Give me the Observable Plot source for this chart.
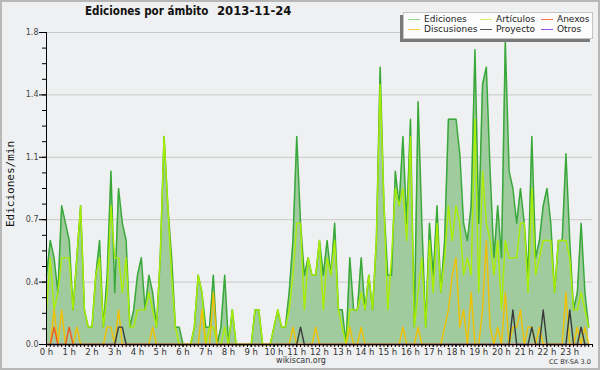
<!DOCTYPE html>
<html>
<head>
<meta charset="utf-8">
<script src="https://cdn.jsdelivr.net/npm/d3@7"></script>
<script src="https://cdn.jsdelivr.net/npm/@observablehq/plot@0.6"></script>
<style>
  body { margin: 0; background: #eff0f1; }
  #wrap { position: relative; width: 600px; height: 370px; background: #eff0f1; overflow: hidden; font-family: "DejaVu Sans", sans-serif; }
  #chart { position: absolute; left: 0; top: 0; }
  #frame { position: absolute; left: 0; top: 0; width: 600px; height: 370px; box-sizing: border-box; border: 2px solid #b8b8b8; pointer-events: none; }
  .title { position: absolute; top: 4px; font-weight: bold; font-size: 12px; color: #111; white-space: nowrap; transform-origin: 0 50%; }
  #ylabel { position: absolute; left: 10px; top: 184px; transform: translate(-50%, -50%) rotate(-90deg); font-family: "DejaVu Sans Mono", monospace; font-size: 11px; color: #111; white-space: nowrap; }
  #legend { position: absolute; left: 403px; top: 12px; width: 190px; height: 27px; box-sizing: border-box; background: #fcfcfc; border: 1px solid #c4c4c4; box-shadow: -3px 3px 0 #7a7a7a; }
  .item { position: absolute; font-size: 9px; color: #222; white-space: nowrap; line-height: 10px; }
  .sw { position: absolute; width: 12px; height: 1px; }
  #site { position: absolute; left: 301px; top: 356px; transform: translateX(-50%); font-size: 8px; color: #333; }
  #lic { position: absolute; left: 549px; top: 358px; font-size: 6.5px; color: #333; white-space: nowrap; }
</style>
</head>
<body>
<div id="wrap">
  <div id="chart"></div>
  <div class="title" id="t1"></div>
  <div class="title" id="t2"></div>
  <div id="ylabel"></div>
  <div id="legend"></div>
  <div id="site"></div>
  <div id="lic"></div>
  <div id="frame"></div>
</div>
<script>
// ---- Data: edits per minute, one value every 10 minutes (144 per day) ----
const ediciones = [
  0.4,0.6,0.5,0.3,0.8,0.7,0.6,0.2,0.5,0.8,
  0.2,0.1,0.1,0.4,0.6,0.1,0.4,1.0,0.3,0.9,
  0.7,0.6,0.1,0.2,0.4,0.5,0.2,0.4,0.3,0.1,
  0.5,1.2,0.8,0.5,0.1,0.1,0,0,0,0.1,
  0.4,0.3,0.1,0.1,0.4,0,0.1,0.4,0,0.2,
  0,0,0,0,0,0.2,0.2,0,0,0,
  0.1,0.2,0.1,0.1,0.3,0.6,1.2,0.7,0.4,0.5,
  0.4,0.4,0.6,0.4,0.6,0.4,0.7,0.2,0.2,0,
  0.5,0.2,0.2,0.5,0.2,0.4,0.2,0.6,1.6,0.8,
  0.4,0.4,1.0,0.8,1.2,0.7,1.3,0.1,1.4,0.7,
  0.1,0.7,0.4,0.8,0.3,0.6,1.3,1.3,1.3,1.1,
  0.7,0.6,0.8,1.7,0.7,1.5,1.6,1.0,0.5,0.8,
  0.5,1.75,1.0,0.9,0.7,0.9,0.7,0.4,1.2,0.5,
  0.6,0.8,0.9,0.7,0.3,0.6,0.6,1.1,0.6,0.2,
  0.3,0.7,0.3,0.1
];
const articulos = [
  0.2,0.5,0.2,0.3,0.5,0.5,0.5,0.2,0.5,0.8,
  0.2,0.1,0.1,0.4,0.5,0.1,0.3,0.8,0.5,0.5,
  0.3,0.5,0.1,0.1,0.2,0.2,0.2,0.3,0.2,0.1,
  0.5,1.2,0.8,0.4,0.1,0,0,0,0,0.1,
  0.4,0.3,0,0.1,0.1,0,0,0.1,0,0.2,
  0,0,0,0,0,0.2,0.2,0,0,0,
  0.1,0.2,0.1,0.1,0.2,0.4,0.7,0.7,0.2,0.5,
  0.4,0.4,0.6,0.2,0.5,0.4,0.6,0.2,0.1,0,
  0.2,0.2,0.2,0.3,0.2,0.4,0.2,0.6,1.5,0.8,
  0.2,0.5,0.9,0.8,0.9,0.6,1.2,0.1,0.3,0.5,
  0.1,0.6,0.3,0.7,0.3,0.5,0.8,0.6,0.8,0.7,
  0.4,0.5,0.4,1.3,0.3,1.0,0.7,0.6,0.4,0.6,
  0.2,0.6,0.5,0.5,0.5,0.7,0.7,0.3,0.9,0.4,
  0.5,0.6,0.6,0.6,0.3,0.6,0.6,0.6,0.5,0.2,
  0.2,0.3,0.2,0.1
];
const discusiones = [
  0,0,0.2,0,0.2,0,0,0,0.1,0,
  0,0,0,0,0,0,0.1,0.1,0,0.2,
  0,0,0,0,0,0,0,0,0.1,0,
  0,0,0,0,0,0,0,0,0,0,
  0,0.2,0,0,0.3,0,0,0,0,0,
  0,0,0,0,0,0,0,0,0,0,
  0,0,0,0,0,0.1,0,0,0,0,
  0,0.1,0,0,0,0,0,0,0,0,
  0.1,0,0,0.1,0,0,0,0,0,0,
  0,0,0,0,0.1,0,0,0,0.1,0,
  0,0,0,0,0,0.1,0.2,0.4,0.5,0.1,
  0.2,0,0.3,0,0,0.2,0.6,0.1,0,0.1,
  0,0.3,0,0.1,0.1,0.2,0,0.1,0.1,0,
  0.1,0,0,0,0,0,0,0.3,0,0,
  0.1,0,0.1,0
];
const anexos = [
  0,0,0.1,0,0,0,0.1,0,0,0,
  0,0,0,0,0,0,0,0,0,0,
  0,0,0,0,0,0,0,0,0,0,
  0,0,0,0,0,0,0,0,0,0,
  0,0,0,0,0,0,0,0,0,0,
  0,0,0,0,0,0,0,0,0,0,
  0,0,0,0,0,0,0,0,0,0,
  0,0,0,0,0,0,0,0,0,0,
  0,0,0,0,0,0,0,0,0,0,
  0,0,0,0,0,0,0,0,0,0,
  0,0,0,0,0,0,0,0,0,0,
  0,0,0,0,0,0,0,0,0,0,
  0,0,0,0,0,0,0,0,0,0,
  0,0,0,0,0,0,0,0,0,0,
  0,0,0,0
];
const proyecto = [
  0,0,0,0,0,0,0,0,0,0,
  0,0,0,0,0,0,0,0,0,0.1,
  0.1,0,0,0,0,0,0,0,0,0,
  0,0,0,0,0,0,0,0,0,0,
  0,0,0,0,0,0,0,0,0,0,
  0,0,0,0,0,0,0,0,0,0,
  0,0,0,0,0,0,0,0.1,0,0,
  0,0,0,0,0,0,0,0,0,0,
  0,0,0,0,0,0,0,0,0,0,
  0,0,0,0,0,0,0,0,0,0,
  0,0,0,0,0,0,0,0,0,0,
  0,0,0,0,0,0,0,0,0,0,
  0,0,0,0.2,0,0,0,0,0.1,0,
  0,0.2,0,0,0,0,0,0,0.2,0,
  0,0.1,0,0
];
const otros = new Array(144).fill(0);

const seriesNames = ["Ediciones", "Artículos", "Anexos", "Discusiones", "Proyecto", "Otros"];
const legendColors = ["#8fd88f", "#d4ee66", "#ff7744", "#ffcc44", "#555555", "#9955ee"];

const hourTicks = [0,1,2,3,4,5,6,7,8,9,10,11,12,13,14,15,16,17,18,19,20,21,22,23];
const hourLabels = ["0 h","1 h","2 h","3 h","4 h","5 h","6 h","7 h","8 h","9 h","10 h","11 h","12 h","13 h","14 h","15 h","16 h","17 h","18 h","19 h","20 h","21 h","22 h","23 h"];
const yTicks = [0, 0.36, 0.72, 1.08, 1.44, 1.8];
const yTickLabels = ["0.0", "0.4", "0.7", "1.1", "1.4", "1.8"];

const titleMain = "Ediciones por ámbito";
const titleDate = "2013-11-24";
const yTitle = "Ediciones/min";
const siteText = "wikiscan.org";
const licText = "CC BY-SA 3.0";

// ---- Build ----
const rows = arr => arr.map((v, i) => ({t: i / 6, v}));
const E = rows(ediciones), A = rows(articulos), D = rows(discusiones),
      X = rows(anexos), P = rows(proyecto), O = rows(otros);
const xMinor = d3.range(0, 24 * 6 + 1).map(k => k / 6);
const yMinor = d3.range(0, 21).map(k => k * 0.09);

const line = (data, stroke, w = 1.4) => Plot.lineY(data, {x: "t", y: "v", stroke, strokeWidth: w});

const chart = Plot.plot({
  width: 600, height: 370,
  marginLeft: 46, marginRight: 8, marginTop: 32, marginBottom: 26,
  x: {domain: [0, 24], label: null},
  y: {domain: [0, 1.8], label: null},
  style: {background: "transparent", fontFamily: "'DejaVu Sans', sans-serif", fontSize: "8px", color: "#333"},
  marks: [
    Plot.gridY(yTicks, {stroke: "#c9c9c9", strokeOpacity: 1}),
    Plot.areaY(E, {x: "t", y: "v", fill: "#9fcb9f"}),
    line(O, "#9955ee"),
    line(E, "#38a838", 1.5),
    line(A, "#aaee00"),
    line(D, "#f2c000"),
    line(X, "#ee5a22"),
    line(P, "#3a3a3a"),
    Plot.axisY({ticks: yMinor, tickSize: 4, tickFormat: () => "", stroke: "#000", label: null}),
    Plot.axisY({ticks: yTicks, tickSize: 7, tickPadding: 1, stroke: "#000", fill: "#444", label: null,
                tickFormat: d => yTickLabels[yTicks.indexOf(d)]}),
    Plot.axisX({ticks: xMinor, tickSize: 3, tickFormat: () => "", stroke: "#000", label: null}),
    Plot.axisX({ticks: hourTicks, tickSize: 3, tickPadding: 1, stroke: "#000", fill: "#333", fontSize: 8.5, label: null,
                tickFormat: d => hourLabels[d]}),
    Plot.ruleX([0], {stroke: "#000"}),
    Plot.ruleY([0], {stroke: "#000"})
  ]
});
document.getElementById("chart").appendChild(chart);

// ---- Text ----
const t1 = document.getElementById("t1");
t1.textContent = titleMain; t1.style.left = "85px"; t1.style.transform = "scaleX(0.865)";
const t2 = document.getElementById("t2");
t2.textContent = titleDate; t2.style.left = "217px"; t2.style.transform = "scaleX(0.97)";
document.getElementById("ylabel").textContent = yTitle;
document.getElementById("site").textContent = siteText;
document.getElementById("lic").textContent = licText;

// ---- Legend ----
const legend = document.getElementById("legend");
const layout = [
  {col: 0, row: 0}, {col: 1, row: 0}, {col: 2, row: 0},
  {col: 0, row: 1}, {col: 1, row: 1}, {col: 2, row: 1}
];
const colX = [4, 76, 137];
seriesNames.forEach((name, k) => {
  const {col, row} = layout[k];
  const sw = document.createElement("div");
  sw.className = "sw";
  sw.style.background = legendColors[k];
  sw.style.left = colX[col] + "px";
  sw.style.top = (6 + row * 10) + "px";
  legend.appendChild(sw);
  const tx = document.createElement("div");
  tx.className = "item";
  tx.textContent = name;
  tx.style.left = (colX[col] + 16) + "px";
  tx.style.top = (row * 10 + 1) + "px";
  legend.appendChild(tx);
});
</script>
</body>
</html>
